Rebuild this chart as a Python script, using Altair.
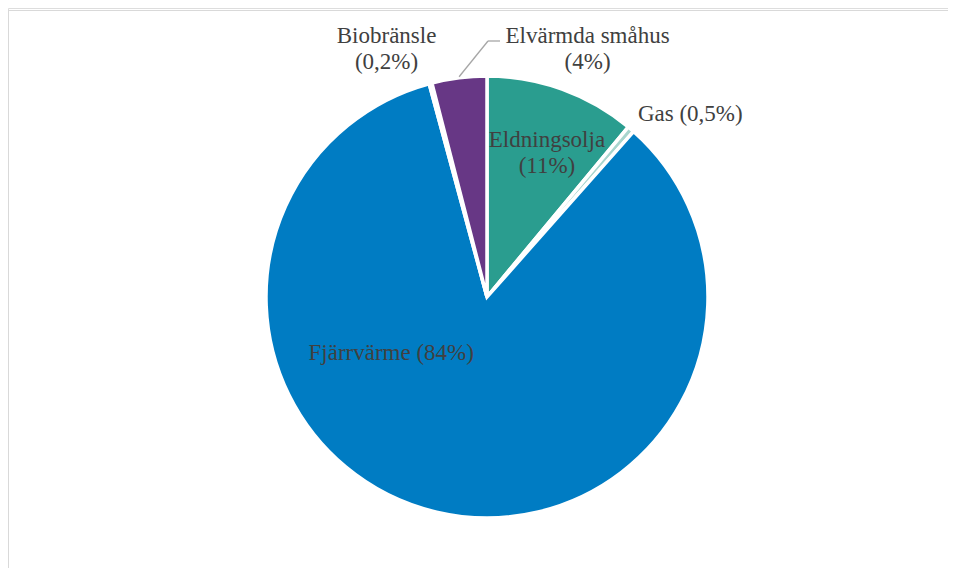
import math
import altair as alt
import pandas as pd

categories = ["Eldningsolja", "Gas", "Fjärrvärme", "Biobränsle", "Elvärmda småhus"]
values = [11, 0.5, 84, 0.2, 4]
labels = ["Eldningsolja\n(11%)", "Gas (0,5%)", "Fjärrvärme (84%)", "Biobränsle\n(0,2%)", "Elvärmda småhus\n(4%)"]
colors = ["#2A9D8F", "#A8D5CE", "#007CC3", "#EEF2F6", "#673785"]

df = pd.DataFrame({"cat": categories, "value": values, "label": labels, "idx": list(range(len(values)))})
total = sum(values)

W, H = 940, 560
CX, CY, R = 479, 289, 221
FONT = "Liberation Serif"
TXT = "#404040"

theta_scale = alt.Scale(domain=[0, total])
base = alt.Chart(df)

pie = base.mark_arc(stroke="white", strokeWidth=3.5).encode(
    theta=alt.Theta("value:Q", stack=True, scale=theta_scale),
    order=alt.Order("idx:Q"),
    color=alt.Color("cat:N", scale=alt.Scale(domain=categories, range=colors), legend=None),
    x=alt.value(CX), y=alt.value(CY), radius=alt.value(R),
)

# label layout: (radius, dx, dy)
layout = {
    "Eldningsolja": (150, 9, -16),
    "Gas": (260, 34, 14),
    "Fjärrvärme": (100, -73, -41),
    "Biobränsle": (260, -34, -10),
    "Elvärmda småhus": (250, 132, -13),
}

stacked = base.transform_window(
    cum="sum(value)", sort=[alt.SortField("idx")], frame=[None, 0]
).transform_calculate(mid="datum.cum - datum.value / 2")

layers = [pie]
for cat, (r, dx, dy) in layout.items():
    layers.append(
        stacked.transform_filter(alt.datum.cat == cat).mark_text(
            font=FONT, fontSize=23, color=TXT, lineBreak="\n", lineHeight=26,
            align="center", baseline="middle", dx=dx, dy=dy,
        ).encode(
            theta=alt.Theta("mid:Q", scale=theta_scale),
            radius=alt.value(r),
            x=alt.value(CX), y=alt.value(CY),
            text="label:N",
        )
    )

# leader line for Elvärmda småhus, from its slice's mid angle
i = categories.index("Elvärmda småhus")
mid_ang = (sum(values[:i]) + values[i] / 2) / total * 2 * math.pi
sx = CX + (R + 1) * math.sin(mid_ang)
sy = CY - (R + 1) * math.cos(mid_ang)
ex, ey = CX + 1, CY - 256
leader = alt.Chart(df.head(1)).mark_rule(color="#A6A6A6", strokeWidth=1.3).encode(
    x=alt.value(sx), y=alt.value(sy), x2=alt.value(ex), y2=alt.value(ey)
)
leader2 = alt.Chart(df.head(1)).mark_rule(color="#A6A6A6", strokeWidth=1.3).encode(
    x=alt.value(ex), y=alt.value(ey), x2=alt.value(ex + 12), y2=alt.value(ey)
)
frame_top = alt.Chart(df.head(1)).mark_rule(color="#D9D9D9", strokeWidth=1).encode(
    x=alt.value(0), x2=alt.value(W + 20), y=alt.value(2.5)
)
frame_left = alt.Chart(df.head(1)).mark_rule(color="#D9D9D9", strokeWidth=1).encode(
    x=alt.value(0.5), y=alt.value(2), y2=alt.value(H + 20)
)
layers += [leader, leader2, frame_top, frame_left]

chart = alt.layer(*layers).properties(
    width=W, height=H, padding=0, autosize=alt.AutoSizeParams(type="none")
).configure_view(stroke=None).configure(background="white")

chart.save("out.html", embed_options={"renderer": "svg", "actions": False})
